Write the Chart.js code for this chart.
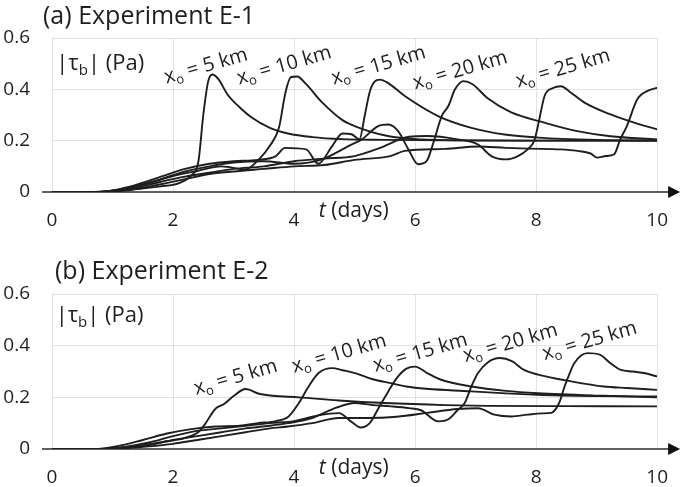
<!DOCTYPE html>
<html>
<head>
<meta charset="utf-8">
<script src="https://cdn.jsdelivr.net/npm/chart.js@4"></script>
<style>
  html, body { margin: 0; padding: 0; background: #fff; }
  #wrap { position: relative; width: 685px; height: 487px; }
  canvas { position: absolute; left: 0; }
</style>
</head>
<body>
<div id="wrap">
  <canvas id="chartA" width="685" height="243" style="top:0"></canvas>
  <canvas id="chartB" width="685" height="244" style="top:243px"></canvas>
</div>
<script>
const xTicks = [0, 2, 4, 6, 8, 10];
const yTicks = [0, 0.2, 0.4, 0.6];
const sourceLabels = ['5 km', '10 km', '15 km', '20 km', '25 km'];

// (a) Experiment E-1  -- t in days, |tau_b| in Pa
const tA5 = [0, 0.6, 1.0, 1.4, 1.8, 2.1, 2.3, 2.42, 2.5, 2.58, 2.65, 2.75, 2.9, 3.1, 3.3, 3.6, 3.9, 4.3, 4.8, 5.5, 6.5, 8, 10];
const vA5 = [0, 0, 0.005, 0.012, 0.022, 0.035, 0.065, 0.12, 0.3, 0.43, 0.458, 0.44, 0.38, 0.33, 0.29, 0.25, 0.228, 0.214, 0.206, 0.203, 0.201, 0.2, 0.2];
const tA10 = [0, 0.7, 1.2, 1.6, 2.0, 2.4, 2.8, 3.2, 3.42, 3.6, 3.75, 3.86, 3.95, 4.05, 4.2, 4.46, 4.8, 5.0, 5.55, 6.1, 6.8, 8, 10];
const vA10 = [0, 0, 0.012, 0.035, 0.062, 0.082, 0.1, 0.088, 0.127, 0.18, 0.25, 0.39, 0.448, 0.45, 0.42, 0.35, 0.28, 0.257, 0.218, 0.205, 0.201, 0.2, 0.2];
const tA15 = [0, 0.8, 1.3, 1.8, 2.2, 2.6, 3.0, 3.4, 3.7, 3.85, 4.2, 4.4, 4.63, 4.8, 4.95, 5.08, 5.17, 5.25, 5.33, 5.42, 5.55, 5.83, 6.38, 6.93, 7.48, 8.03, 9, 10];
const vA15 = [0, 0, 0.022, 0.06, 0.09, 0.11, 0.12, 0.125, 0.14, 0.172, 0.166, 0.11, 0.179, 0.228, 0.225, 0.205, 0.3, 0.39, 0.43, 0.438, 0.425, 0.374, 0.296, 0.25, 0.224, 0.212, 0.203, 0.2];
const tA20 = [0, 0.8, 1.3, 1.8, 2.2, 2.6, 3.0, 3.5, 4.0, 4.46, 4.9, 5.12, 5.39, 5.56, 5.72, 5.89, 6.05, 6.19, 6.3, 6.44, 6.55, 6.66, 6.8, 6.95, 7.2, 7.59, 8.14, 8.68, 9.23, 10];
const vA20 = [0, 0, 0.018, 0.05, 0.08, 0.1, 0.115, 0.12, 0.11, 0.127, 0.179, 0.205, 0.257, 0.263, 0.237, 0.166, 0.108, 0.12, 0.19, 0.296, 0.335, 0.4, 0.432, 0.42, 0.365, 0.31, 0.27, 0.237, 0.217, 0.205];
const tA25 = [0, 0.8, 1.3, 1.8, 2.2, 2.6, 3.0, 3.5, 4.0, 4.5, 5.0, 5.4, 5.9, 6.2, 6.7, 7.04, 7.26, 7.5, 7.7, 7.86, 7.97, 8.03, 8.14, 8.28, 8.41, 8.57, 8.8, 9.23, 9.62, 10];
const vA25 = [0, 0, 0.012, 0.04, 0.06, 0.075, 0.09, 0.1, 0.12, 0.13, 0.14, 0.17, 0.215, 0.218, 0.205, 0.185, 0.14, 0.127, 0.14, 0.166, 0.2, 0.257, 0.374, 0.405, 0.412, 0.388, 0.348, 0.302, 0.27, 0.244];
const tA30 = [0, 0.8, 1.3, 1.8, 2.2, 2.6, 3.0, 3.5, 4.0, 4.5, 5.0, 5.59, 5.83, 6.5, 7.04, 7.5, 7.9, 8.4, 8.68, 8.9, 9.01, 9.15, 9.29, 9.39, 9.5, 9.67, 9.85, 10];
const vA30 = [0, 0, 0.008, 0.03, 0.05, 0.07, 0.08, 0.09, 0.1, 0.105, 0.125, 0.14, 0.16, 0.168, 0.177, 0.172, 0.169, 0.166, 0.16, 0.15, 0.134, 0.14, 0.147, 0.205, 0.257, 0.36, 0.395, 0.406];

// (b) Experiment E-2
const tB5 = [0, 0.7, 1.1, 1.5, 1.9, 2.19, 2.43, 2.54, 2.62, 2.71, 2.85, 3.0, 3.2, 3.42, 3.64, 4.08, 4.74, 5.5, 6.5, 7.2, 8.5, 10];
const vB5 = [0, 0, 0.005, 0.015, 0.03, 0.042, 0.068, 0.1, 0.13, 0.158, 0.175, 0.205, 0.232, 0.214, 0.206, 0.2, 0.188, 0.178, 0.17, 0.167, 0.166, 0.165];
const tB10 = [0, 0.7, 1.1, 1.5, 1.9, 2.3, 2.7, 3.1, 3.4, 3.7, 3.91, 4.08, 4.24, 4.41, 4.63, 4.8, 5.01, 5.3, 5.6, 5.85, 6.93, 8.03, 9, 10];
const vB10 = [0, 0, 0.012, 0.035, 0.06, 0.077, 0.087, 0.09, 0.1, 0.108, 0.126, 0.178, 0.242, 0.295, 0.313, 0.305, 0.294, 0.27, 0.255, 0.242, 0.223, 0.21, 0.205, 0.203];
const tB15 = [0, 0.8, 1.2, 1.6, 2.0, 2.4, 2.8, 3.2, 3.6, 4.0, 4.4, 4.74, 4.95, 5.1, 5.25, 5.4, 5.55, 5.7, 5.85, 6.0, 6.2, 6.43, 6.93, 7.5, 8.03, 9.12, 10];
const vB15 = [0, 0, 0.008, 0.025, 0.05, 0.07, 0.08, 0.09, 0.1, 0.108, 0.13, 0.139, 0.105, 0.083, 0.1, 0.16, 0.22, 0.275, 0.31, 0.319, 0.294, 0.268, 0.242, 0.225, 0.216, 0.206, 0.2];
const tB20 = [0, 0.8, 1.2, 1.6, 2.0, 2.4, 2.8, 3.2, 3.6, 3.9, 4.3, 4.7, 5.0, 5.3, 5.6, 5.9, 6.1, 6.38, 6.55, 6.7, 6.82, 6.93, 7.04, 7.2, 7.4, 7.6, 7.8, 8.03, 8.6, 9.12, 9.5, 10];
const vB20 = [0, 0, 0.005, 0.015, 0.035, 0.05, 0.065, 0.08, 0.09, 0.1, 0.12, 0.16, 0.178, 0.17, 0.165, 0.158, 0.15, 0.107, 0.115, 0.15, 0.178, 0.242, 0.294, 0.335, 0.352, 0.34, 0.306, 0.288, 0.261, 0.242, 0.236, 0.229];
const tB25 = [0, 0.8, 1.2, 1.6, 2.0, 2.4, 2.8, 3.2, 3.6, 3.9, 4.3, 4.74, 5.2, 5.7, 6.2, 6.7, 7.04, 7.31, 7.59, 7.86, 8.1, 8.25, 8.38, 8.47, 8.55, 8.63, 8.85, 9.05, 9.23, 9.4, 9.6, 9.78, 10];
const vB25 = [0, 0, 0.003, 0.01, 0.02, 0.035, 0.05, 0.065, 0.08, 0.087, 0.1, 0.12, 0.12, 0.125, 0.14, 0.155, 0.158, 0.133, 0.126, 0.133, 0.138, 0.14, 0.178, 0.242, 0.29, 0.332, 0.371, 0.365, 0.332, 0.306, 0.3, 0.294, 0.281];

const seriesA = [[tA5, vA5], [tA10, vA10], [tA15, vA15], [tA20, vA20], [tA25, vA25], [tA30, vA30]];
const seriesB = [[tB5, vB5], [tB10, vB10], [tB15, vB15], [tB20, vB20], [tB25, vB25]];

const FONT = "'Open Sans', sans-serif";
const INK = '#1e1e1e';

function drawRich(ctx, x, y, parts, angle) {
  ctx.save();
  ctx.translate(x, y);
  ctx.rotate(angle || 0);
  ctx.fillStyle = INK;
  ctx.textAlign = 'left';
  ctx.textBaseline = 'alphabetic';
  let cx = 0;
  parts.forEach(p => {
    ctx.font = (p.italic ? 'italic ' : '') + p.size + 'px ' + FONT;
    ctx.fillText(p.text, cx, p.dy || 0);
    cx += ctx.measureText(p.text).width;
  });
  ctx.restore();
}

const decorPlugin = {
  id: 'decor',
  beforeDatasetsDraw(chart) {
    const { ctx, chartArea, scales: { y } } = chart;
    const y0 = y.getPixelForValue(0);
    ctx.save();
    ctx.strokeStyle = '#606060';
    ctx.lineWidth = 2;
    ctx.beginPath();
    ctx.moveTo(chartArea.left - 10, y0);
    ctx.lineTo(chartArea.right + 12, y0);
    ctx.stroke();
    ctx.fillStyle = '#111';
    ctx.beginPath();
    ctx.moveTo(chartArea.right + 23, y0);
    ctx.lineTo(chartArea.right + 11, y0 - 6);
    ctx.lineTo(chartArea.right + 11, y0 + 6);
    ctx.closePath();
    ctx.fill();
    ctx.restore();
  },
  afterDraw(chart, args, opts) {
    const { ctx, scales: { x, y } } = chart;
    drawRich(ctx, opts.titleAt[0], opts.titleAt[1], [{ text: opts.title, size: 25 }]);
    drawRich(ctx, x.getPixelForValue(opts.unitAt[0]), y.getPixelForValue(opts.unitAt[1]), [
      { text: '|\u03C4', size: 22 }, { text: 'b', size: 15, dy: 5 }, { text: '| (Pa)', size: 22 }
    ]);
    drawRich(ctx, x.getPixelForValue(4.41), y.getPixelForValue(0) + 25, [
      { text: 't', size: 21, italic: true }, { text: ' (days)', size: 21 }
    ]);
    opts.anchors.forEach((a, i) => {
      drawRich(ctx, x.getPixelForValue(a[0]), y.getPixelForValue(a[1]), [
        { text: 'x', size: 20 }, { text: 'o', size: 13, dy: 4 }, { text: ' = ' + sourceLabels[i], size: 20 }
      ], -16 * Math.PI / 180);
    });
  }
};

function makeChart(id, series, decor, padTop, xHeight) {
  return new Chart(document.getElementById(id), {
    type: 'line',
    data: {
      datasets: series.map(([t, v]) => ({
        data: t.map((tt, i) => ({ x: tt, y: v[i] })),
        borderColor: INK,
        borderWidth: 1.9,
        pointRadius: 0,
        fill: false,
        cubicInterpolationMode: 'monotone'
      }))
    },
    options: {
      responsive: false,
      animation: false,
      layout: { padding: { top: padTop, right: 25, left: 0, bottom: 0 } },
      plugins: { legend: { display: false }, tooltip: { enabled: false }, decor },
      scales: {
        x: {
          type: 'linear', min: 0, max: 10,
          afterBuildTicks: s => { s.ticks = xTicks.map(value => ({ value })); },
          afterFit: s => { s.height = xHeight; },
          grid: { color: '#e2e2e2', drawTicks: false },
          border: { display: false },
          ticks: { padding: 17, color: INK, font: { family: FONT, size: 19 } }
        },
        y: {
          min: 0, max: 0.6,
          afterBuildTicks: s => { s.ticks = yTicks.map(value => ({ value })); },
          afterFit: s => { s.width = 52; },
          grid: { color: '#e2e2e2', drawTicks: false },
          border: { display: false },
          ticks: {
            padding: 22, color: INK, font: { family: FONT, size: 19 },
            callback: v => (v === 0 ? '0' : v.toFixed(1))
          }
        }
      }
    },
    plugins: [decorPlugin]
  });
}

makeChart('chartA', seriesA, {
  title: '(a) Experiment E-1', titleAt: [43, 24], unitAt: [0.07, 0.474],
  anchors: [[1.89, 0.423], [3.09, 0.419], [4.65, 0.419], [6.0, 0.40], [7.7, 0.407]]
}, 38, 51);

makeChart('chartB', seriesB, {
  title: '(b) Experiment E-2', titleAt: [55, 36], unitAt: [0.06, 0.493],
  anchors: [[2.38, 0.21], [4.0, 0.295], [5.34, 0.299], [6.83, 0.337], [8.14, 0.345]]
}, 51, 38);
</script>
</body>
</html>
